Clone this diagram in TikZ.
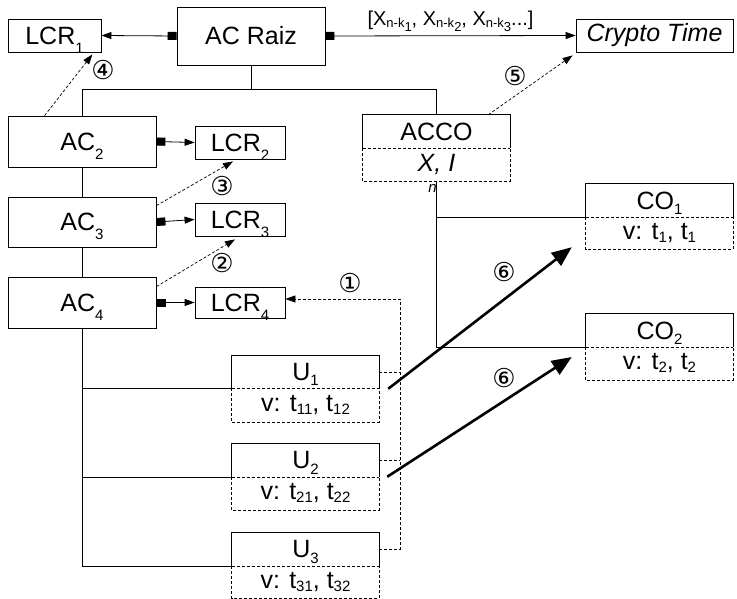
\documentclass[tikz,border=0pt]{standalone}
\usepackage{fontspec}
\setmainfont{Liberation Sans}
\newfontfamily\djv{DejaVu Sans}
\usetikzlibrary{arrows.meta,calc}
\newcommand\sbl[1]{\smash{\raisebox{-9pt}{\fontsize{15}{15}\selectfont #1}}}
\newcommand\sbu[1]{\smash{\raisebox{-5.5pt}{\fontsize{15}{15}\selectfont #1}}}
\newcommand\sbt[1]{\smash{\raisebox{-3pt}{\fontsize{15}{15}\selectfont #1}}}
\newcommand\xsub[1]{X\smash{\raisebox{-2.5pt}{\fontsize{13}{13}\selectfont n-k\raisebox{-4pt}{#1}}}}
\begin{document}
\begin{tikzpicture}[x=1pt,y=-1pt,
  every node/.style={font=\fontsize{25}{27}\selectfont, inner sep=0pt},
  box/.style={draw, line width=0.8pt},
  part/.style={minimum width=147pt},
  conn/.style={line width=0.8pt},
  dot/.style={line width=0.7pt, dash pattern=on 3pt off 2pt},
  sq/.style={{Square[length=9pt,width=8pt]}-{Triangle[length=10pt,width=7pt]}},
  tri/.style={-{Triangle[length=10pt,width=7pt]}},
  big/.style={line width=2.6pt, -{Triangle[length=20pt,width=16pt]}},
  num/.style={font=\djv\fontsize{26}{26}\selectfont}]
\useasboundingbox (0,0) rectangle (737,599);
% simple boxes
\node[box, minimum width=93pt, minimum height=33pt] (lcr1) at (54.5,35.5) {LCR\sbl{1}};
\node[box, minimum width=148pt, minimum height=58pt] (root) at (251,36) {AC Raiz};
\node[box, minimum width=157pt, minimum height=33pt] (crypto) at (654.5,35.5) {\itshape Crypto Time};
\node[box, minimum width=148pt, minimum height=51pt] (ac2) at (82,141.5) {AC\sbl{2}};
\node[box, minimum width=148pt, minimum height=50pt] (ac3) at (82,222) {AC\sbl{3}};
\node[box, minimum width=148pt, minimum height=51pt] (ac4) at (82,302.5) {AC\sbl{4}};
\node[box, minimum width=90pt, minimum height=33pt] (lcr2) at (240,142.5) {LCR\sbl{2}};
\node[box, minimum width=90pt, minimum height=33pt] (lcr3) at (240,219.5) {LCR\sbl{3}};
\node[box, minimum width=90pt, minimum height=31pt] (lcr4) at (240,302.5) {LCR\sbl{4}};
% two-part boxes
\node[part, minimum height=33pt] (accot) at (436.5,131.5) {ACCO};
\node[part, minimum height=33pt] (accob) at (436.5,164.5) {\itshape X\rlap{\hspace{-6pt}\smash{\raisebox{-21pt}{\fontsize{15}{15}\selectfont n}}}, I};
\node[part, minimum height=33pt] (co1t) at (659.5,200.5) {CO\sbu{1}};
\node[part, minimum height=32pt] (co1b) at (659.5,233) {v: t\sbt{1}, t\sbt{1}};
\node[part, minimum height=33pt] (co2t) at (659.5,330.5) {CO\sbu{2}};
\node[part, minimum height=33pt] (co2b) at (659.5,363.5) {v: t\sbt{2}, t\sbt{2}};
\node[part, minimum height=32pt] (u1t) at (305.5,372) {U\sbu{1}};
\node[part, minimum height=34pt] (u1b) at (305.5,405) {v: t\sbt{11}, t\sbt{12}};
\node[part, minimum height=33pt] (u2t) at (305.5,460.5) {U\sbu{2}};
\node[part, minimum height=33pt] (u2b) at (305.5,493.5) {v: t\sbt{21}, t\sbt{22}};
\node[part, minimum height=33pt] (u3t) at (305.5,549.5) {U\sbu{3}};
\node[part, minimum height=32pt] (u3b) at (305.5,582) {v: t\sbt{31}, t\sbt{32}};
\foreach \t/\b in {accot/accob,co1t/co1b,co2t/co2b,u1t/u1b,u2t/u2b,u3t/u3b}{
  \draw[conn] (\t.south west) -- (\t.north west) -- (\t.north east) -- (\t.south east);
  \draw[dot] (\t.south west) -- (\t.south east);
  \draw[dot] (\b.north west) -- (\b.south west) -- (\b.south east) -- (\b.north east);
}
% tree lines
\coordinate (barL) at (82,89);
\draw[conn] (root.south) -- (root.south |- barL);
\draw[conn] (ac2.north) -- (barL) -| (accot.north);
\draw[conn] (ac2.south) -- (ac3.north);
\draw[conn] (ac3.south) -- (ac4.north);
\draw[conn] (ac4.south) |- (u3t.south west);
\draw[conn] (ac4.south |- u1t.south) -- (u1t.south west);
\draw[conn] (ac4.south |- u2t.south) -- (u2t.south west);
\draw[conn] (accob.south) |- (co2t.south west);
\draw[conn] (accob.south |- co1t.south) -- (co1t.south west);
% arrows with square tails
\draw[conn, sq] (root.west) -- (lcr1.east);
\draw[conn, sq] (root.east) -- node[above=6pt, font=\fontsize{20}{20}\selectfont] (lbl) {[\xsub{1}, \xsub{2}, \xsub{3}...]} (crypto.west);
\draw[conn, sq] (ac2.east) -- (lcr2.west);
\draw[conn, sq] (ac3.east) -- (lcr3.west);
\draw[conn, sq] (ac4.east) -- (lcr4.west);
% dotted arrows
\draw[dot, tri] ($(ac2.north west)+(37,0)$) -- ($(lcr1.south east)+(-9,2)$);
\draw[dot, tri] ($(ac3.north east)+(0,9)$) -- ($(lcr2.south)+(-7,2)$);
\draw[dot, tri] ($(ac4.north east)+(0,10)$) -- ($(lcr3.south)+(-5,3)$);
\draw[dot, tri] ($(accot.north east)+(-22,0)$) -- ($(crypto.south west)+(-3,3)$);
\coordinate (bus) at (400,299);
\draw[dot, tri] (u3t.east) -| (bus) -- (bus -| lcr4.east);
\draw[dot] (u1t.east) -- (u1t.east -| bus);
\draw[dot] (u2t.east) -- (u2t.east -| bus);
% thick arrows
\draw[big] ($(u1b.north east)+(9,1)$) -- ($(co1b.south west)+(-14,-2)$);
\draw[big] ($(u2b.north east)+(8,0)$) -- ($(co2b.west)+(-14,-6.5)$);
% numbers
\node[num] (n4) at (103,70) {④};
\node[num] (n3) at (222,186) {③};
\node[num] (n2) at (222,263) {②};
\node[num] (n1) at (350,283) {①};
\node[num] (n5) at (515,76) {⑤};
\node[num] (n6a) at (504,272) {⑥};
\node[num] (n6b) at (504,378) {⑥};
\end{tikzpicture}
\end{document}
